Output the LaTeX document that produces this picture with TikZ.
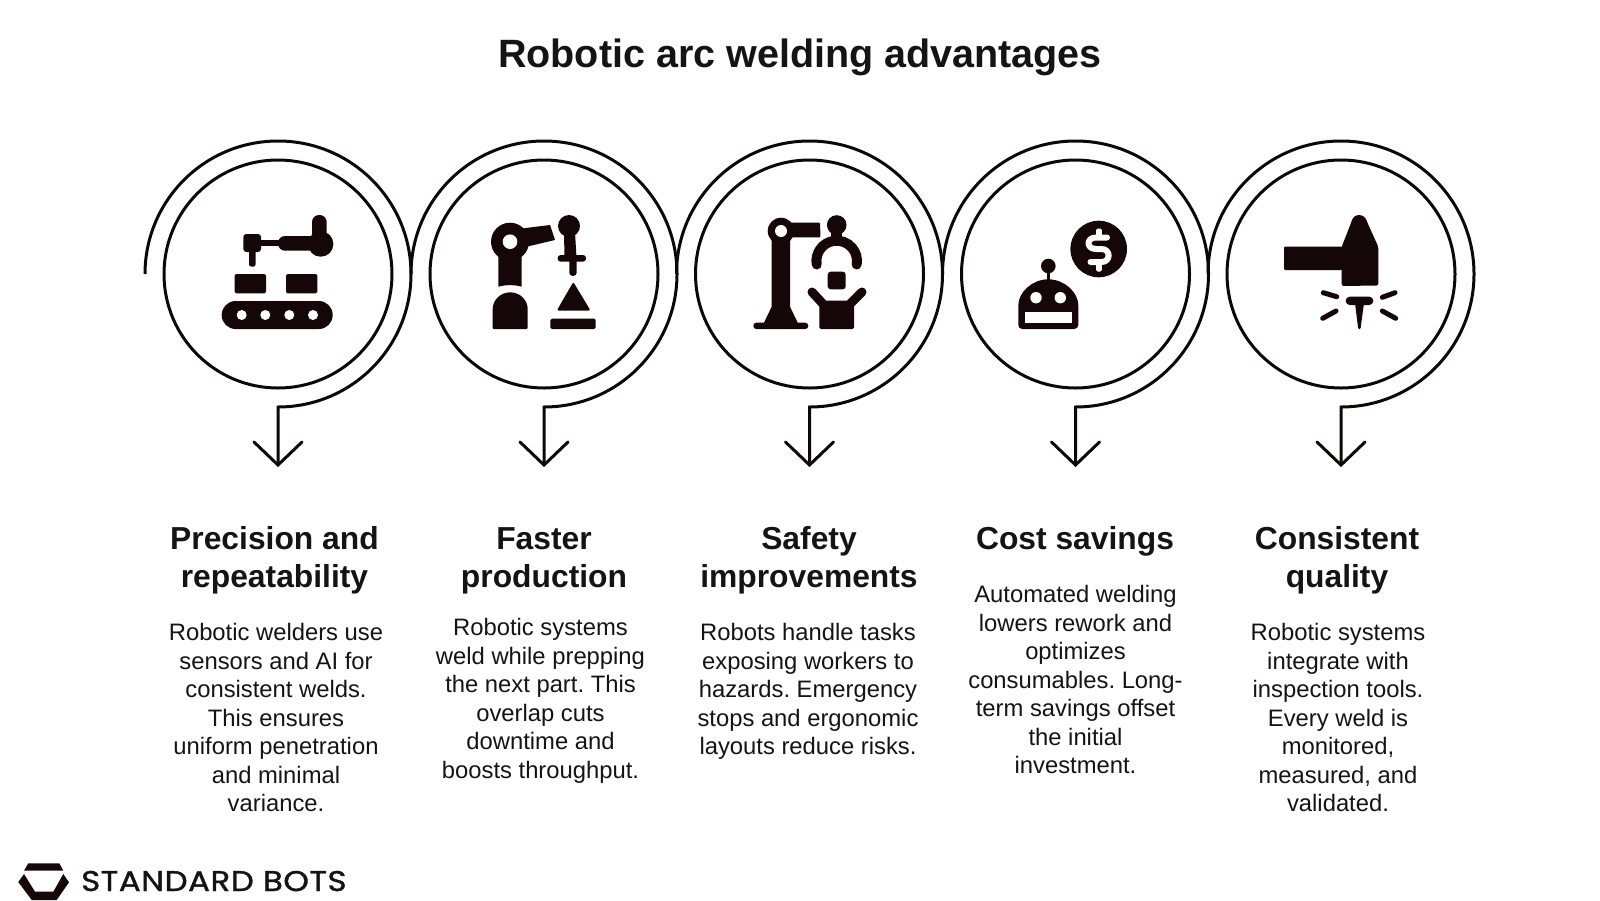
\documentclass[tikz,border=0pt]{standalone}
\usepackage{fontspec}
\setmainfont{Liberation Sans}
\newfontfamily\logofont[FakeBold=1.3,FakeStretch=1.14,LetterSpace=1.8]{Poppins}
\definecolor{ink}{HTML}{150707}
\definecolor{wire}{HTML}{0C0808}
\definecolor{txt}{HTML}{141414}
\tikzset{
  ring/.style={draw=wire,line width=3pt,fill=white},
  spiral/.style={draw=wire,line width=3pt},
  tipline/.style={draw=wire,line width=3pt,line cap=round,line join=miter},
  icon/.style={fill=ink,draw=none},
  hole/.style={fill=white,draw=none},
  ln/.style={draw=ink,line cap=round},
  ttl/.style={font=\fontsize{39.5}{44}\bfseries\selectfont,text=txt,anchor=center},
  head/.style={font=\fontsize{31.8}{38}\bfseries\selectfont,text=txt,align=center,anchor=north,execute at begin node=\frenchspacing},
  body/.style={font=\fontsize{23.8}{28.5}\selectfont,text=txt,align=center,anchor=north,execute at begin node=\frenchspacing},
}
\newcommand{\spiralat}[2]{%
  \coordinate (s#2) at (#1-133,274);
  \coordinate (e#2) at (#1,465);
  \coordinate (l#2) at (#1-24,442);
  \coordinate (r#2) at (#1+24,442);
  \draw[spiral] (s#2) arc[start angle=180,end angle=-90,radius=133pt] -- (e#2);
  \draw[tipline] (l#2) -- (e#2) -- (r#2);
}
\newcommand{\ringat}[2]{\node[ring,circle,minimum size=228pt,inner sep=0pt] (c#2) at (#1,274) {};}
\begin{document}
\begin{tikzpicture}[x=1pt,y=-1pt]
\useasboundingbox (0,0) rectangle (1600,900);
\node[ttl] (title) at (800,57) {Robotic arc welding advantages};
\spiralat{278}{1}\spiralat{544}{2}\spiralat{809.5}{3}\spiralat{1075.5}{4}\spiralat{1341}{5}
\ringat{278}{1}\ringat{544}{2}\ringat{809.5}{3}\ringat{1075.5}{4}\ringat{1341}{5}
% icon 1
\fill[icon,rounded corners=13.9pt] (221.7,301) rectangle (332.7,329);
\foreach \x in {241.7,265.3,289.3,313}{\fill[hole] (\x,315) circle (5pt);}
\fill[icon,rounded corners=1.5pt] (234.7,274) rectangle (266,293.3);
\fill[icon,rounded corners=1.5pt] (286,274) rectangle (317.3,293.3);
\fill[icon,rounded corners=3pt] (243.3,234) rectangle (261,252);
\fill[icon,rounded corners=2.5pt] (249,250) rectangle (255.7,266.7);
\fill[icon] (260,240) rectangle (281,246);
\fill[icon,rounded corners=7pt] (278,236) rectangle (322,250.7);
\fill[icon] (320.7,244) circle (12.7pt);
\fill[icon,rounded corners=7pt] (312,215) rectangle (326.7,240);
% icon 2
\fill[icon] (523.3,228.3) -- (550,225) -- (555,240) -- (526.7,246.7) -- cycle;
\fill[icon] (498.3,245) -- (521.7,245) -- (521.7,286.7) .. controls (513,284.5) and (507,284.5) .. (498.3,286.7) -- cycle;
\fill[icon] (510,241.7) circle (19pt);
\fill[hole] (510,241.7) circle (7.3pt);
\fill[icon,rounded corners=1pt] (492.7,329) -- (492.7,309.8) arc[start angle=180,end angle=0,radius=17.5pt] -- (527.7,329) -- cycle;
\fill[icon] (569,226) circle (11pt);
\fill[icon] (564,232) -- (575,232) -- (576.5,258) -- (564.5,258) -- cycle;
\fill[icon,rounded corners=3pt] (557.7,255) rectangle (586,261.7);
\fill[icon,rounded corners=3.5pt] (569.3,258) rectangle (576.7,276);
\fill[icon,rounded corners=2pt] (573.3,282) -- (556.8,310.5) -- (590.5,310.5) -- cycle;
\fill[icon,rounded corners=1.5pt] (550.3,318.7) rectangle (595.7,329);
% icon 3
\fill[icon,rounded corners=1pt] (780,222.7) -- (820,222.7) -- (820.5,237.3) -- (780,237.3) -- cycle;
\fill[icon] (771.7,236) -- (790,236) -- (790,306.7) -- (798.3,324) -- (763.3,324) -- (771.7,306.7) -- cycle;
\fill[icon,rounded corners=3pt] (753.3,322.7) rectangle (808.3,329);
\fill[icon] (781,231) circle (13.3pt);
\fill[hole] (781,231) circle (6pt);
\fill[icon] (836.7,225) circle (9.8pt);
\fill[icon] (831,228) rectangle (842.4,242);
\draw[ln,line width=10pt] (816.7,264.5) arc[start angle=190,end angle=-10,radius=20.3pt];
\fill[icon,rounded corners=3pt] (827.7,271.7) rectangle (845.7,289.3);
\fill[icon,rounded corners=1.5pt] (819.3,303) -- (854,303) -- (854,329) -- (819.3,329) -- cycle;
\draw[ln,line width=9pt] (812,292) -- (824,305) -- (849,305) -- (862,292);
% icon 4
\fill[icon] (1098.7,249) circle (28.3pt);
\draw[white,line width=6pt,line cap=round,line join=round] (1107,237.5) -- (1096,237.5) .. controls (1086,237.5) and (1086,249) .. (1096,249) -- (1101.5,249) .. controls (1111,249) and (1111,262) .. (1101.5,262) -- (1090.5,262);
\fill[hole,rounded corners=1.5pt] (1096.2,228.5) rectangle (1101.8,237);
\fill[hole,rounded corners=1.5pt] (1096.2,261) rectangle (1101.8,271.5);
\fill[icon,rounded corners=4pt] (1018.3,329) -- (1018.3,309.3) arc[start angle=180,end angle=0,radius=30pt] -- (1078.3,329) -- cycle;
\fill[hole] (1036,297.7) circle (5.7pt);
\fill[hole] (1060.3,297.7) circle (5.7pt);
\fill[hole] (1025,312) rectangle (1071.7,322.7);
\fill[icon] (1048.3,266) circle (7.3pt);
\fill[icon] (1046.6,268) rectangle (1050,281);
% icon 5
\fill[icon,rounded corners=1pt] (1284,246.7) rectangle (1345,270);
\fill[icon,rounded corners=2pt] (1341.7,246.7) -- (1351,223) .. controls (1354,213) and (1364,213) .. (1367.5,223) -- (1378.3,246.7) -- (1378.3,285.5) -- (1341.7,286) -- cycle;
\fill[icon,rounded corners=4pt] (1345.7,296.7) rectangle (1373.3,305);
\fill[icon,rounded corners=1pt] (1355,303) -- (1364,303) -- (1360.5,329) -- (1358.2,329) -- cycle;
\draw[ln,line width=5pt] (1323.3,292.7) -- (1336.7,296.7);
\draw[ln,line width=5pt] (1382.3,297.3) -- (1395,292.7);
\draw[ln,line width=5pt] (1322.7,318.3) -- (1336,311);
\draw[ln,line width=5pt] (1382.3,311) -- (1395.7,318.3);
% headings
\node[head] (h1) at (274.5,519) {\strut Precision and\\repeatability};
\node[head] (h2) at (544,519) {\strut Faster\\production};
\node[head] (h3) at (809,519) {\strut Safety\\improvements};
\node[head] (h4) at (1075,519) {\strut Cost savings};
\node[head] (h5) at (1337,519) {\strut Consistent\\quality};
% bodies
\node[body] (b1) at (276,617.5) {\strut Robotic welders use\\sensors and AI for\\consistent welds.\\This ensures\\uniform penetration\\and minimal\\variance.};
\node[body] (b2) at (540.5,612.5) {\strut Robotic systems\\weld while prepping\\the next part. This\\overlap cuts\\downtime and\\boosts throughput.};
\node[body] (b3) at (808,617.5) {\strut Robots handle tasks\\exposing workers to\\hazards. Emergency\\stops and ergonomic\\layouts reduce risks.};
\node[body] (b4) at (1075.5,579.5) {\strut Automated welding\\lowers rework and\\optimizes\\consumables. Long-\\term savings offset\\the initial\\investment.};
\node[body] (b5) at (1338,617.5) {\strut Robotic systems\\integrate with\\inspection tools.\\Every weld is\\monitored,\\measured, and\\validated.};
% logo
\fill[icon] (28.3,863.3) -- (59.3,863.3) -- (63.3,870.7) -- (24,870.7) -- cycle;
\fill[icon] (18.3,882) -- (24,874) -- (35,891.7) -- (53.3,891.7) -- (63.3,874) -- (69,882.3) -- (56.7,900) -- (31.7,900) -- cycle;
\node[font=\logofont\fontsize{28.5}{30}\selectfont,text=txt,anchor=base west,inner sep=0pt] (logo) at (81,891) {STANDARD BOTS};
\end{tikzpicture}
\end{document}
